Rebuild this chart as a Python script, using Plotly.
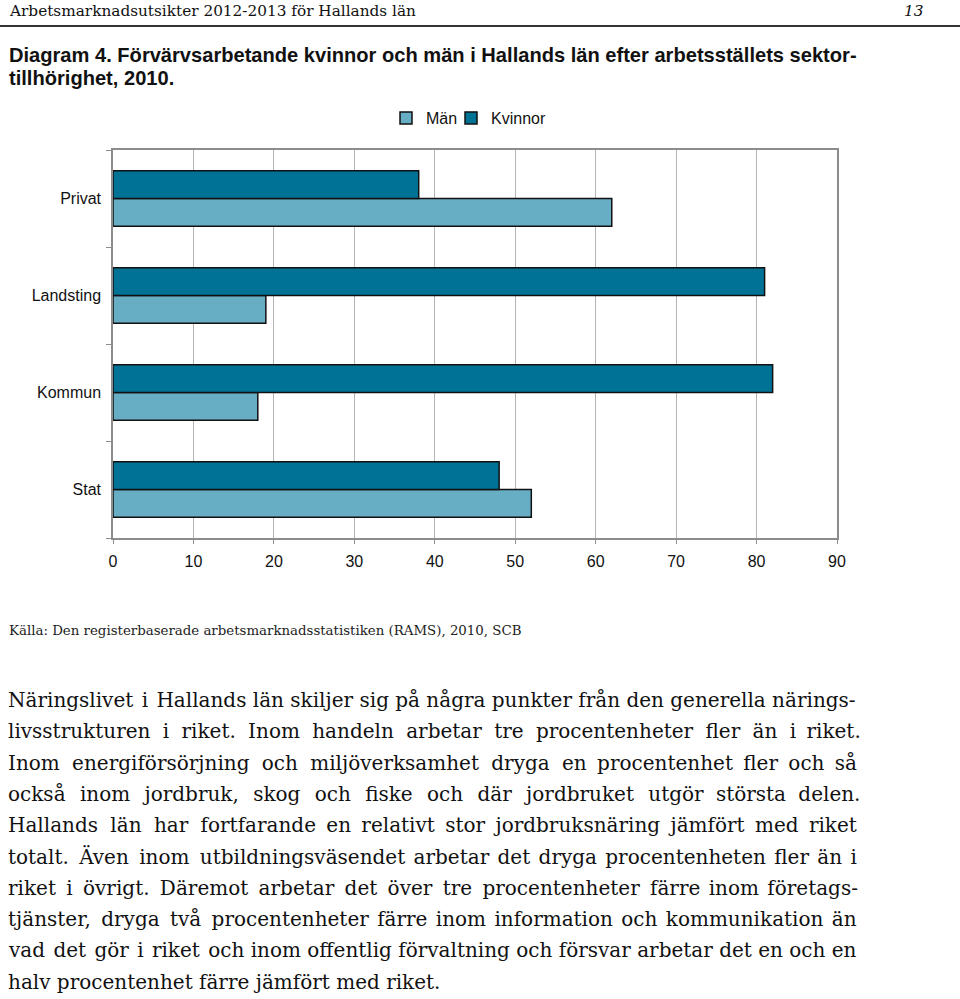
import plotly.graph_objects as go

categories = ["Stat", "Kommun", "Landsting", "Privat"]
man_values = [52, 18, 19, 62]
kvinnor_values = [48, 82, 81, 38]
x_ticks = [0, 10, 20, 30, 40, 50, 60, 70, 80, 90]

header_text = "Arbetsmarknadsutsikter 2012-2013 för Hallands län"
page_number = "13"
title_lines = [
    "Diagram 4. Förvärvsarbetande kvinnor och män i Hallands län efter arbetsställets sektor-",
    "tillhörighet, 2010.",
]
source_text = "Källa: Den registerbaserade arbetsmarknadsstatistiken (RAMS), 2010, SCB"
paragraph_lines = [
    "Näringslivet i Hallands län skiljer sig på några punkter från den generella närings-",
    "livsstrukturen i riket. Inom handeln arbetar tre procentenheter fler än i riket.",
    "Inom energiförsörjning och miljöverksamhet dryga en procentenhet fler och så",
    "också inom jordbruk, skog och fiske och där jordbruket utgör största delen.",
    "Hallands län har fortfarande en relativt stor jordbruksnäring jämfört med riket",
    "totalt. Även inom utbildningsväsendet arbetar det dryga procentenheten fler än i",
    "riket i övrigt. Däremot arbetar det över tre procentenheter färre inom företags-",
    "tjänster, dryga två procentenheter färre inom information och kommunikation än",
    "vad det gör i riket och inom offentlig förvaltning och försvar arbetar det en och en",
    "halv procentenhet färre jämfört med riket.",
]

# text layout: total hair spaces per line, spread over word gaps to imitate justified text
justify_hairs = [2, 32, 23, 42, 23, 13, 20, 12, 5, 0]

W, H = 960, 999
L, R, T, B = 113, 837, 150, 538


def px(x):
    return (x - L) / (R - L)


def py(y):
    return (B - y) / (B - T)


def justify(line, hairs):
    words = line.split(" ")
    gaps = len(words) - 1
    if gaps <= 0 or hairs <= 0:
        return line
    out = words[0]
    for k in range(gaps):
        n = hairs // gaps + (1 if k < hairs % gaps else 0)
        out += " " + "\u200a" * n + words[k + 1]
    return out


fig = go.Figure()
fig.add_trace(go.Bar(
    y=categories, x=man_values, name="Män", orientation="h", legend="legend",
    marker=dict(color="#67adc4", line=dict(color="#111111", width=1.5)),
))
fig.add_trace(go.Bar(
    y=categories, x=kvinnor_values, name="Kvinnor", orientation="h", legend="legend2",
    marker=dict(color="#007296", line=dict(color="#111111", width=1.5)),
))

serif = "DejaVu Serif"
sans = "Liberation Sans, Arial, sans-serif"
annotations = []
annotations.append(dict(text=header_text, x=px(7), y=py(11), xref="paper", yref="paper",
                        xanchor="left", yanchor="middle", showarrow=False,
                        font=dict(family=serif, size=15.3, color="#111")))
annotations.append(dict(text="<i>" + page_number + "</i>", x=px(925), y=py(11), xref="paper", yref="paper",
                        xanchor="right", yanchor="middle", showarrow=False,
                        font=dict(family=serif, size=15.3, color="#111")))
for i, line in enumerate(title_lines):
    annotations.append(dict(text="<b>" + line + "</b>", x=px(7), y=py(55 + 23 * i), xref="paper", yref="paper",
                            xanchor="left", yanchor="middle", showarrow=False,
                            font=dict(family=sans, size=20.1, color="#111")))
annotations.append(dict(text=source_text, x=px(7), y=py(630), xref="paper", yref="paper",
                        xanchor="left", yanchor="middle", showarrow=False,
                        font=dict(family=serif, size=13.35, color="#222")))
for i, line in enumerate(paragraph_lines):
    annotations.append(dict(text=justify(line, justify_hairs[i]), x=px(6), y=py(700 + 31.3 * i),
                            xref="paper", yref="paper",
                            xanchor="left", yanchor="middle", showarrow=False,
                            font=dict(family=serif, size=20, color="#111")))

legend_style = dict(orientation="h", yanchor="middle", y=py(118), xanchor="left",
                    font=dict(family=sans, size=16, color="#111"), itemwidth=30,
                    bgcolor="rgba(0,0,0,0)")

fig.update_layout(
    width=W, height=H,
    margin=dict(l=L, r=W - R, t=T, b=H - B, pad=0),
    paper_bgcolor="white", plot_bgcolor="white",
    barmode="group", bargap=0.43, bargroupgap=0,
    showlegend=True,
    legend=dict(x=px(386), **legend_style),
    legend2=dict(x=px(451), **legend_style),
    annotations=annotations,
    shapes=[dict(type="line", xref="paper", yref="paper", x0=px(0), x1=px(960), y0=py(26), y1=py(26),
                 line=dict(color="#333", width=2))],
    font=dict(family=sans, size=16, color="#111"),
)
fig.update_xaxes(range=[0, 90], tickvals=x_ticks, showgrid=True, gridcolor="#b4b4b4", gridwidth=1,
                 showline=True, linecolor="#8c8c8c", linewidth=1.5, mirror=True,
                 ticks="outside", ticklen=4, tickcolor="#8c8c8c", zeroline=False,
                 ticklabelstandoff=4,
                 tickfont=dict(family=sans, size=16, color="#111"))
fig.update_yaxes(type="category", categoryorder="array", categoryarray=categories,
                 showline=True, linecolor="#8c8c8c", linewidth=1.5, mirror=True,
                 ticks="outside", tickson="boundaries", ticklen=5, tickcolor="#8c8c8c",
                 showgrid=False, ticklabelstandoff=7,
                 tickfont=dict(family=sans, size=16, color="#111"))

fig.write_html("out.html")
